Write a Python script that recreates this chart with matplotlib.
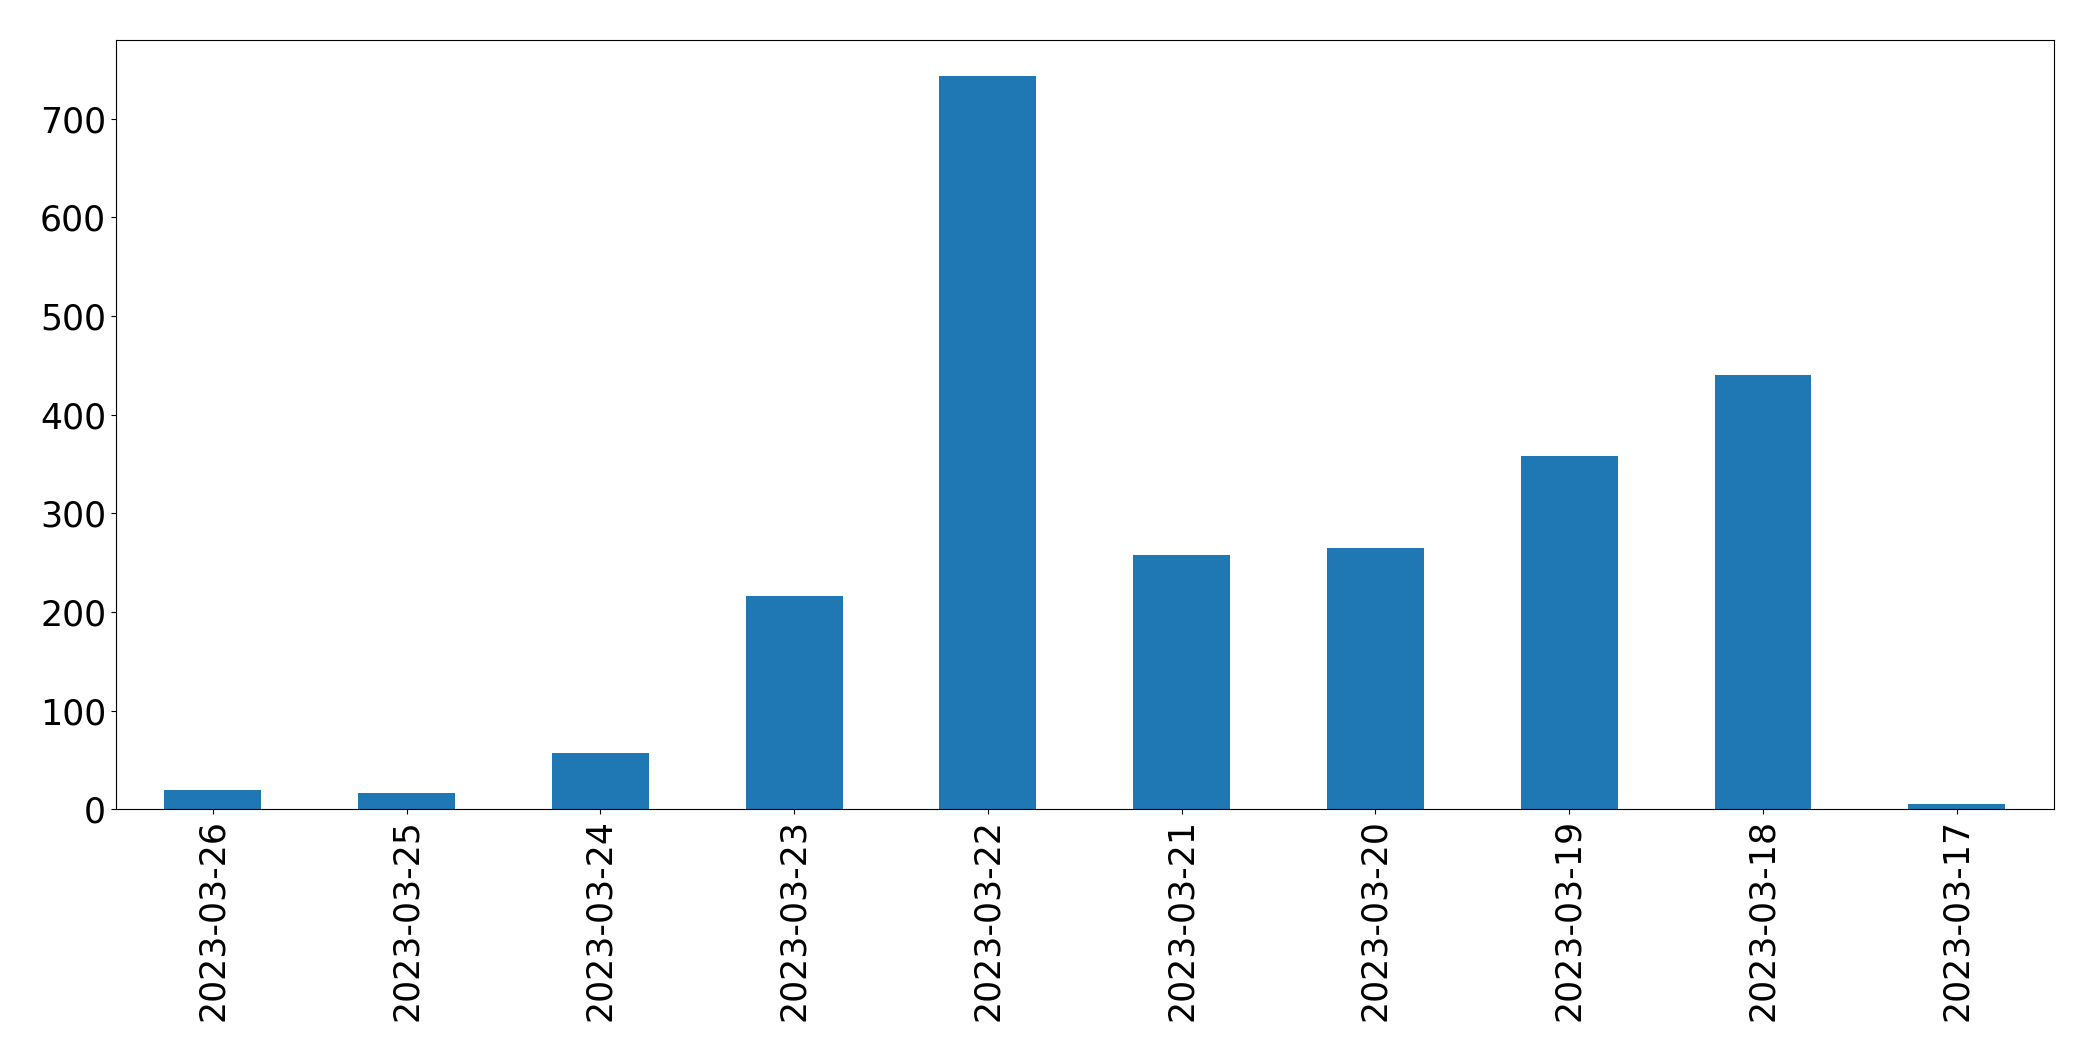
import matplotlib
matplotlib.use("Agg")
import matplotlib.pyplot as plt
import numpy as np

dates = ['2023-03-26', '2023-03-25', '2023-03-24', '2023-03-23', '2023-03-22',
         '2023-03-21', '2023-03-20', '2023-03-19', '2023-03-18', '2023-03-17']
counts = [20, 17, 57, 216, 743, 258, 265, 358, 440, 5]

fig = plt.figure(figsize=(20.93, 10.61), dpi=100)
ax = fig.add_axes([0.0554, 0.2372, 0.9258, 0.7254])

x = np.arange(len(dates))
ax.bar(x, counts, width=0.5, color='#1f77b4')
ax.set_xlim(-0.5, len(dates) - 0.5)
ax.set_xticks(x)
ax.set_xticklabels(dates, rotation=90)
ax.tick_params(axis='both', labelsize=25)

plt.savefig('out.png', dpi=100)
